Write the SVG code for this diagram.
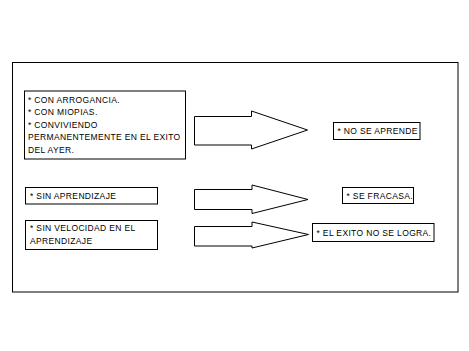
<svg xmlns="http://www.w3.org/2000/svg" width="469" height="351" viewBox="0 0 469 351">
<style>
.box{fill:#fff;stroke:#000;stroke-width:1}
.arr{fill:#fff;stroke:#000;stroke-width:1}
text{font-family:"Liberation Sans",Arial,sans-serif;font-size:8.5px;letter-spacing:0.35px;fill:#000}
</style>
<rect width="469" height="351" fill="#fff"/>
<rect id="frame" x="12.5" y="62.5" width="445.5" height="229.5" class="box"/>
<g id="n1">
<rect x="24.5" y="91" width="161" height="68" class="box"/>
<text x="28" y="102.5">* CON ARROGANCIA.</text>
<text x="28" y="115">* CON MIOPIAS.</text>
<text x="28" y="127.5">* CONVIVIENDO</text>
<text x="28" y="140">PERMANENTEMENTE EN EL EXITO</text>
<text x="28" y="152.5">DEL AYER.</text>
</g>
<g id="n2">
<rect x="25.5" y="187.5" width="132" height="16.5" class="box"/>
<text x="30" y="199">* SIN APRENDIZAJE</text>
</g>
<g id="n3">
<rect x="25.5" y="220.5" width="132" height="29" class="box"/>
<text x="30" y="230.5">* SIN VELOCIDAD EN EL</text>
<text x="30" y="243.5">APRENDIZAJE</text>
</g>
<g id="n4">
<rect x="333.5" y="122.5" width="86.5" height="17" class="box"/>
<text x="337.5" y="134">* NO SE APRENDE</text>
</g>
<g id="n5">
<rect x="342.5" y="187.5" width="71" height="16" class="box"/>
<text x="346.5" y="199">* SE FRACASA.</text>
</g>
<g id="n6">
<rect x="312.5" y="223.5" width="121.5" height="18" class="box"/>
<text x="316.5" y="235.5">* EL EXITO NO SE LOGRA.</text>
</g>
<g id="connectors">
<path class="arr" d="M194.5,116.5 H251.5 V111 L307.5,130 L251.5,149 V145 H194.5 Z"/>
<path class="arr" d="M194.5,189.5 H252 V185 L308,199.5 L252,213.5 V209.5 H194.5 Z"/>
<path class="arr" d="M194.5,226.5 H252 V222 L308.5,234.5 L252,248 V246 H194.5 Z"/>
</g>
</svg>
